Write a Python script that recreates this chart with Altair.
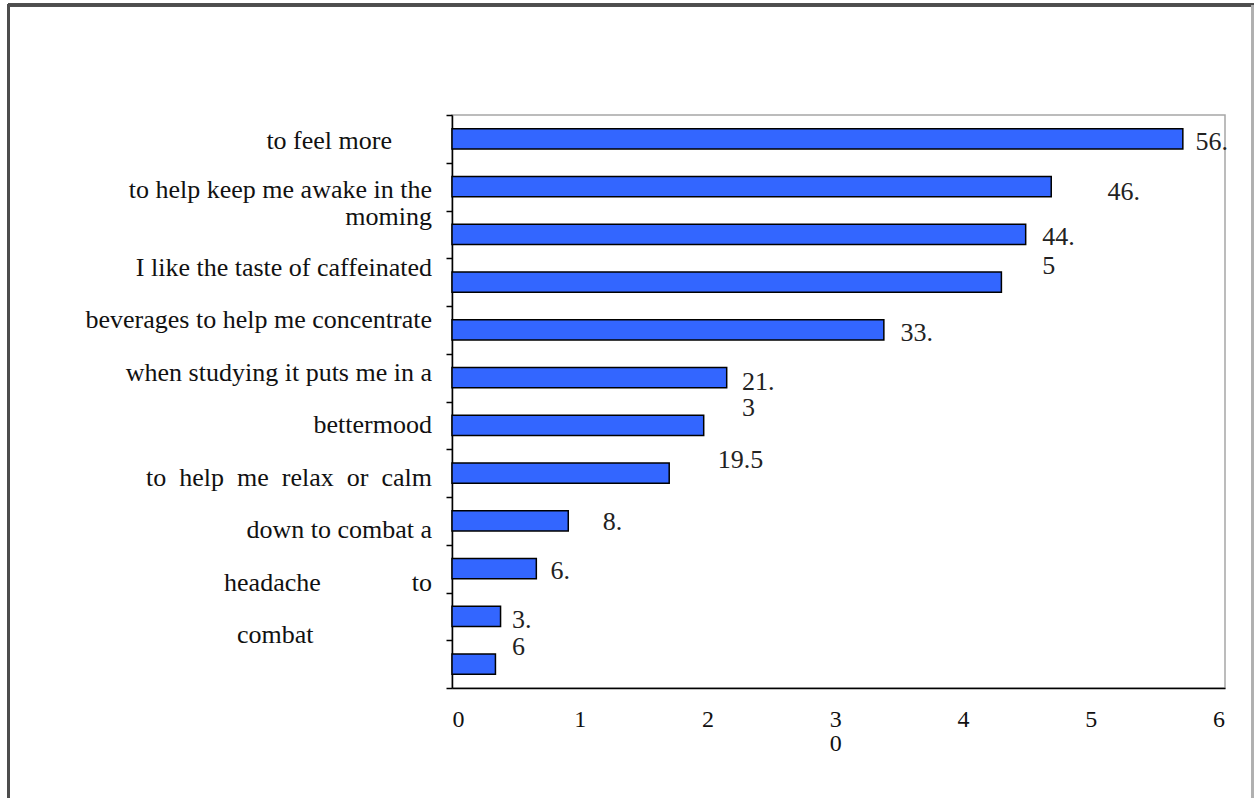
import altair as alt
import pandas as pd

# ---- data ----
bar_values = [5.72, 4.69, 4.49, 4.30, 3.38, 2.15, 1.97, 1.70, 0.91, 0.66, 0.38, 0.34]

# category text lines as they appear (misaligned in the source document)
label_lines = [
    "to help keep me awake in the",
    "moming",
    "I like the taste of caffeinated",
    "beverages to help me concentrate",
    "when studying it puts me in a",
    "bettermood",
    "to\u00a0\u00a0help\u00a0\u00a0me\u00a0\u00a0relax\u00a0\u00a0or\u00a0\u00a0calm",
    "down to combat a",
    "headache" + "\u00a0" * 14 + "to",
]
label_rows = [1.58, 2.13, 3.2, 4.3, 5.4, 6.5, 7.6, 8.7, 9.8]
first_label = "to feel more"
first_label_row = 0.55
last_label = "combat"
last_label_row = 10.9

# value annotations (broken wrapping as in the source)
value_texts = ["56.", "46.", "44.", "5", "33.", "21.", "3", "19.5", "8.", "6.", "3.", "6"]
value_x = [5.82, 5.13, 4.62, 4.62, 3.51, 2.27, 2.27, 2.08, 1.18, 0.77, 0.47, 0.47]
value_rows = [0.56, 1.61, 2.55, 3.16, 4.57, 5.59, 6.14, 7.22, 8.52, 9.55, 10.58, 11.14]

x_ticks = [0, 1, 2, 3, 4, 5, 6]

# ---- tables ----
bars = pd.DataFrame({
    "row": list(range(len(bar_values))),
    "value": bar_values,
})
bars["top"] = bars["row"] + 0.29
bars["bottom"] = bars["row"] + 0.71

labels = pd.DataFrame({"text": label_lines, "row": label_rows})
first = pd.DataFrame({"text": [first_label], "row": [first_label_row]})
last = pd.DataFrame({"text": [last_label], "row": [last_label_row]})
vals = pd.DataFrame({"text": value_texts, "x": value_x, "row": value_rows})

FONT = "Liberation Serif"

yscale = alt.Scale(domain=[0, 12], reverse=True, nice=False, zero=False)
xscale = alt.Scale(domain=[0, 6.05], nice=False, zero=True)

yaxis = alt.Axis(
    values=list(range(13)), labels=False, title=None, grid=False,
    ticks=True, tickSize=6, tickColor="black", tickWidth=1.5,
    domainColor="black", domainWidth=1.5,
)
xaxis = alt.Axis(
    values=x_ticks, title=None, grid=False, ticks=False,
    labelFont=FONT, labelFontSize=24, labelColor="#111111",
    labelPadding=19, labelLineHeight=24,
    labelExpr="datum.value == 3 ? ['3', '0'] : datum.label",
    domainColor="black", domainWidth=1.5,
)

bar_layer = alt.Chart(bars).mark_bar(
    color="#3366ff", stroke="black", strokeWidth=1.5
).encode(
    x=alt.X("value:Q", scale=xscale, axis=xaxis),
    x2=alt.datum(0),
    y=alt.Y("top:Q", scale=yscale, axis=yaxis),
    y2="bottom:Q",
)

label_layer = alt.Chart(labels).mark_text(
    align="right", baseline="middle", font=FONT, fontSize=26, color="#111111"
).encode(
    x=alt.value(-20),
    y=alt.Y("row:Q", scale=yscale, axis=yaxis),
    text="text:N",
)

first_layer = alt.Chart(first).mark_text(
    align="right", baseline="middle", font=FONT, fontSize=26, color="#111111"
).encode(
    x=alt.value(-60),
    y=alt.Y("row:Q", scale=yscale, axis=yaxis),
    text="text:N",
)

last_layer = alt.Chart(last).mark_text(
    align="left", baseline="middle", font=FONT, fontSize=26, color="#111111"
).encode(
    x=alt.value(-215),
    y=alt.Y("row:Q", scale=yscale, axis=yaxis),
    text="text:N",
)

value_layer = alt.Chart(vals).mark_text(
    align="left", baseline="middle", font=FONT, fontSize=26, color="#222222"
).encode(
    x=alt.X("x:Q", scale=xscale, axis=xaxis),
    y=alt.Y("row:Q", scale=yscale, axis=yaxis),
    text="text:N",
)

# page frame lines around the figure
frame_left = alt.Chart(bars).mark_rule(color="#4d4d4d", strokeWidth=2.5).encode(
    x=alt.value(-443.5), y=alt.value(-111), y2=alt.value(700)
)
frame_top = alt.Chart(bars).mark_rule(color="#4d4d4d", strokeWidth=2.5).encode(
    x=alt.value(-444), x2=alt.value(810), y=alt.value(-110)
)
frame_right = alt.Chart(bars).mark_rule(color="#b0b0b0", strokeWidth=1.5).encode(
    x=alt.value(800.5), y=alt.value(-110), y2=alt.value(700)
)

chart = alt.layer(
    bar_layer, label_layer, first_layer, last_layer, value_layer,
    frame_left, frame_top, frame_right,
).properties(
    width=773, height=573,
    autosize=alt.AutoSizeParams(type="none"),
    padding={"left": 452, "top": 115, "right": 29, "bottom": 110},
    background="white",
).configure_view(
    stroke="#a6a6a6", strokeWidth=1.5
)

chart.save("out.html", embed_options={"renderer": "svg", "actions": False})
